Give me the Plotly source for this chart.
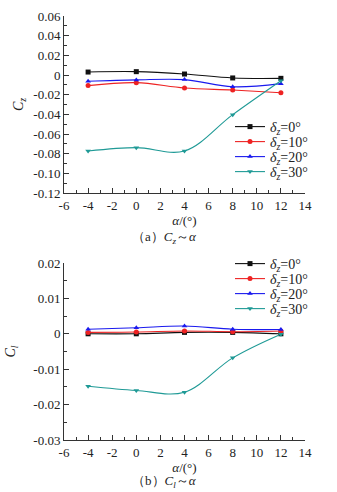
import plotly.graph_objects as go

alpha = [-4, 0, 4, 8, 12]

cz_0 = [0.0030, 0.0034, 0.0010, -0.0030, -0.0034]
cz_10 = [-0.0108, -0.0078, -0.0132, -0.0153, -0.0180]
cz_20 = [-0.0064, -0.0050, -0.0047, -0.0120, -0.0088]
cz_30 = [-0.0773, -0.0739, -0.0773, -0.0403, -0.0058]

cl_0 = [0.0000, 0.0000, 0.0004, 0.0004, 0.0000]
cl_10 = [0.0004, 0.0005, 0.0008, 0.0006, 0.0008]
cl_20 = [0.0013, 0.0017, 0.0022, 0.0013, 0.0012]
cl_30 = [-0.0148, -0.0160, -0.0165, -0.0068, -0.0001]

series_names = ["<i>δ</i><sub><i>z</i></sub>=0°", "<i>δ</i><sub><i>z</i></sub>=10°",
                "<i>δ</i><sub><i>z</i></sub>=20°", "<i>δ</i><sub><i>z</i></sub>=30°"]

x_tickvals = [-6, -4, -2, 0, 2, 4, 6, 8, 10, 12, 14]
x_ticktext = ["-6", "-4", "-2", "0", "2", "4", "6", "8", "10", "12", "14"]

cz_tickvals = [0.06, 0.04, 0.02, 0, -0.02, -0.04, -0.06, -0.08, -0.10, -0.12]
cz_ticktext = ["0.06", "0.04", "0.02", "0", "-0.02", "-0.04", "-0.06", "-0.08", "-0.10", "-0.12"]

cl_tickvals = [0.02, 0.01, 0, -0.01, -0.02, -0.03]
cl_ticktext = ["0.02", "0.01", "0", "-0.01", "-0.02", "-0.03"]

colors = ["#111111", "#ee2222", "#1a1aee", "#1f9a96"]
symbols = ["square", "circle", "triangle-up", "triangle-down"]

FONT = "Liberation Serif, Times New Roman, serif"
TXT = "#222222"
W, H = 337, 492

fig = go.Figure()

for i, ys in enumerate([cz_0, cz_10, cz_20, cz_30]):
    fig.add_trace(go.Scatter(
        x=alpha, y=ys, mode="lines+markers", name=series_names[i],
        line=dict(color=colors[i], width=1.1, shape="spline", smoothing=1),
        marker=dict(symbol=symbols[i], size=5, color=colors[i]),
        xaxis="x", yaxis="y", legend="legend" if i == 0 else f"legend{i + 1}"))

for i, ys in enumerate([cl_0, cl_10, cl_20, cl_30]):
    fig.add_trace(go.Scatter(
        x=alpha, y=ys, mode="lines+markers", name=series_names[i],
        line=dict(color=colors[i], width=1.1, shape="spline", smoothing=1),
        marker=dict(symbol=symbols[i], size=5, color=colors[i]),
        xaxis="x2", yaxis="y2", legend=f"legend{i + 5}"))

xdom = [64 / W, 305 / W]
top_dom = [1 - 193 / H, 1 - 16 / H]
bot_dom = [1 - 440 / H, 1 - 263 / H]

axis_common = dict(
    showline=True, linecolor="#333333", linewidth=1,
    ticks="inside", ticklen=5, tickcolor="#333333", tickwidth=1,
    showgrid=False, zeroline=False, mirror=False, automargin=False,
    tickfont=dict(family=FONT, size=13, color=TXT),
)

xaxis_cfg = dict(axis_common, range=[-6, 14], tickmode="array",
                 tickvals=x_tickvals, ticktext=x_ticktext,
                 minor=dict(ticks="inside", ticklen=3, tickcolor="#333333", dtick=1, tick0=0),
                 domain=xdom,
                 title=dict(text="<i>α</i>/(°)", font=dict(family=FONT, size=13, color=TXT), standoff=0))

legend_layout = {}
top_rows = [127, 142, 157, 172]
bot_rows = [264, 279, 294, 309]
for k, yy in enumerate(top_rows + bot_rows):
    key = "legend" if k == 0 else f"legend{k + 1}"
    legend_layout[key] = dict(x=230 / W, y=1 - yy / H, xanchor="left", yanchor="middle",
                              bgcolor="rgba(0,0,0,0)", borderwidth=0,
                              font=dict(family=FONT, size=14, color=TXT),
                              itemwidth=30, tracegroupgap=0)

fig.update_layout(
    width=W, height=H,
    margin=dict(l=0, r=0, t=0, b=0),
    paper_bgcolor="white", plot_bgcolor="white",
    font=dict(family=FONT, size=13, color=TXT),
    xaxis=dict(xaxis_cfg, anchor="y"),
    yaxis=dict(axis_common, range=[-0.12, 0.06], tickmode="array",
               tickvals=cz_tickvals, ticktext=cz_ticktext,
               minor=dict(ticks="inside", ticklen=3, tickcolor="#333333", dtick=0.01, tick0=0),
               domain=top_dom, anchor="x",
               title=dict(text="<i>C</i><sub><i>z</i></sub>", font=dict(family=FONT, size=14, color=TXT), standoff=6)),
    xaxis2=dict(xaxis_cfg, anchor="y2"),
    yaxis2=dict(axis_common, range=[-0.03, 0.02], tickmode="array",
                tickvals=cl_tickvals, ticktext=cl_ticktext,
                minor=dict(ticks="inside", ticklen=3, tickcolor="#333333", dtick=0.005, tick0=0),
                domain=bot_dom, anchor="x2",
                title=dict(text="<i>C</i><sub><i>l</i></sub>", font=dict(family=FONT, size=14, color=TXT), standoff=14)),
    showlegend=True,
    **legend_layout,
)

fig.add_annotation(x=0.487, y=1 - 237 / H, xref="paper", yref="paper",
                   text="（a）<i>C</i><sub><i>z</i></sub>～<i>α</i>", showarrow=False,
                   font=dict(family=FONT, size=13, color=TXT))
fig.add_annotation(x=0.487, y=0, xref="paper", yref="paper", yanchor="bottom", yshift=0,
                   text="（b）<i>C</i><sub><i>l</i></sub>～<i>α</i>", showarrow=False,
                   font=dict(family=FONT, size=13, color=TXT))

fig.write_html("out.html", config={"displayModeBar": False},
               post_script="document.body.style.margin='0';document.body.style.padding='0';")
